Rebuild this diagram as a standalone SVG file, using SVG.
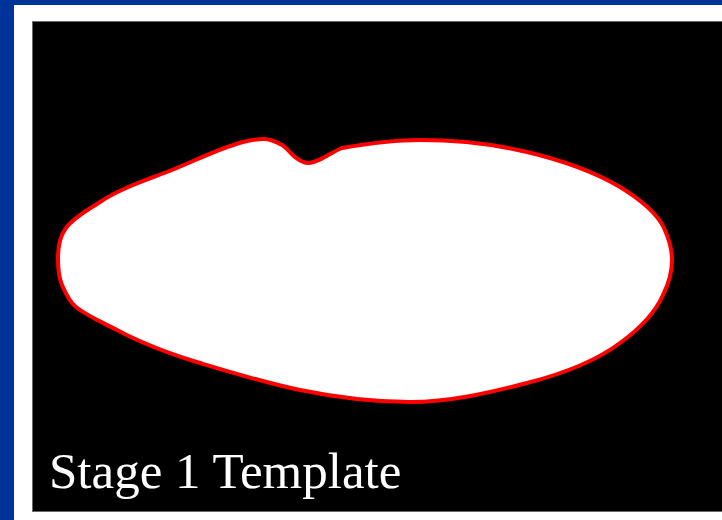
<svg xmlns="http://www.w3.org/2000/svg" width="722" height="520" viewBox="0 0 722 520">
  <style>
    .label { font-family: "Liberation Serif", "DejaVu Serif", serif; font-size: 51px; fill: #ffffff; }
    .blob { fill: #ffffff; stroke: #ff0000; stroke-width: 4; stroke-linejoin: round; }
  </style>
  <rect id="background" x="0" y="0" width="722" height="520" fill="#ffffff"/>
  <g id="frame">
    <rect x="0" y="0" width="722" height="5" fill="#003399"/>
    <rect x="0" y="0" width="14" height="520" fill="#003399"/>
  </g>
  <g id="panel">
    <rect x="32.5" y="21.5" width="692" height="490" fill="#000000" stroke="#6a6a6a" stroke-width="1"/>
  </g>
  <g id="template">
    <path class="blob" d="M58 258
      C58 247 60 236 66 228
      C74.4 216.8 88.4 209.8 100 202
      C120 188.6 144.7 180.6 167 172
      C192 162.3 216.8 149 243 142
      C249.8 140.2 257 139 264 139
      C270.3 139 276.5 142 282 145
      C287.2 147.8 290.2 153.6 295 157
      C298.9 159.8 303.2 163 308 163
      C313.3 163 318.3 160.4 323 158
      C329.7 154.6 335 150.7 342 148
      C365 144 395 140 420 140
      C456 140 492 143.7 527 152
      C559 159.6 591.6 170.2 620 187
      C638 198 656 211 664 228
      C669 239 672 249 672 260
      C672 272 669 283 663 295
      C655 313 638 330 620 343
      C593 363.2 559.7 374.6 527 383
      C488.7 392.9 449.5 402 410 402
      C373.1 402 336.2 397.4 300 390
      C266.2 383.1 233.1 373 200 363
      C171.4 354.4 143.2 344 117 330
      C103.2 322.6 88.2 316.7 76 307
      C69.2 301.6 65.5 293 62 285
      C58.4 276.6 58 267.1 58 258 Z"/>
  </g>
  <g id="caption">
    <text class="label" x="49" y="488">Stage 1 Template</text>
  </g>
</svg>
